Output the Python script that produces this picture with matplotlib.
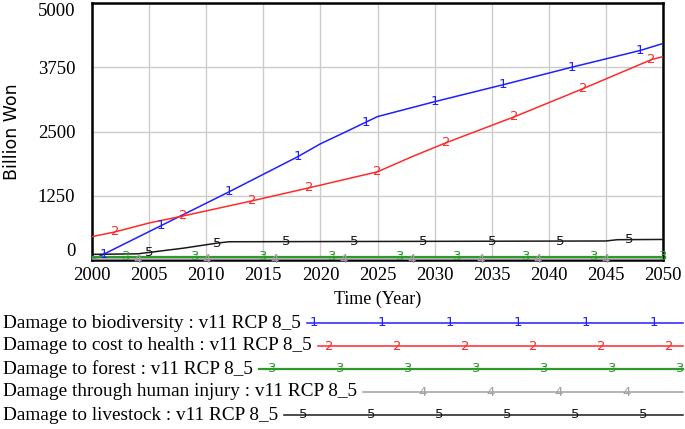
import matplotlib
matplotlib.use("Agg")
import matplotlib.pyplot as plt
import numpy as np

# values (Billion Won)
bio_years = [2000, 2006, 2012, 2018, 2020, 2022, 2025, 2030, 2036, 2042, 2048, 2050]
bio_vals = [0, 663, 1326, 2008, 2260, 2470, 2790, 3080, 3410, 3750, 4076, 4212]

health_years = [2000, 2002, 2005, 2008, 2014, 2019, 2025, 2028, 2031, 2037, 2043, 2049, 2050]
health_vals = [454, 546, 720, 858, 1150, 1404, 1716, 2008, 2281, 2788, 3334, 3900, 3958]

forest_years = [2000, 2050]
forest_vals = [65, 65]

injury_years = [2000, 2050]
injury_vals = [15, 15]

livestock_years = [2000, 2004, 2008, 2011, 2012, 2045, 2046, 2050]
livestock_vals = [110, 120, 230, 330, 355, 370, 395, 400]

# where the series number is written along each line
bio_marks = [2001, 2006, 2012, 2018, 2024, 2030, 2036, 2042, 2048]
health_marks = [2002, 2008, 2014, 2019, 2025, 2031, 2037, 2043, 2049]
forest_marks = [2003, 2009, 2015, 2021, 2027, 2032, 2038, 2044, 2050]
injury_marks = [2004, 2010, 2016, 2022, 2028, 2034, 2039, 2045]
livestock_marks = [2005, 2011, 2017, 2023, 2029, 2035, 2041, 2047]

labels = ["Damage to biodiversity : v11 RCP 8_5",
          "Damage to cost to health : v11 RCP 8_5",
          "Damage to forest : v11 RCP 8_5",
          "Damage through human injury : v11 RCP 8_5",
          "Damage to livestock : v11 RCP 8_5"]
colors = ["#1f1fff", "#ff2a2a", "#2e9a2e", "#a0a0a0", "#1a1a1a"]
widths = [1.1, 1.1, 1.6, 1.1, 1.1]

series = [(bio_years, bio_vals, bio_marks),
          (health_years, health_vals, health_marks),
          (forest_years, forest_vals, forest_marks),
          (injury_years, injury_vals, injury_marks),
          (livestock_years, livestock_vals, livestock_marks)]

W, H = 685, 429
fig = plt.figure(figsize=(W / 100, H / 100), dpi=100)
ax = fig.add_axes([92 / W, (H - 260) / H, 571 / W, 257 / H])

# draw injury first so forest sits over it
order = [3, 2, 4, 1, 0]
for i in order:
    xs, ys, marks = series[i]
    ax.plot(xs, ys, color=colors[i], lw=widths[i], zorder=3 + i * 0.1)
    for m in marks:
        ax.text(m, np.interp(m, xs, ys), str(i + 1), color=colors[i],
                fontsize=9.5, ha="center", va="center", zorder=4, clip_on=False)

ax.set_xlim(2000, 2050)
ax.set_ylim(0, 5000)
ax.set_xticks(np.arange(2000, 2051, 5))
ax.set_yticks([0, 1250, 2500, 3750, 5000])
ax.grid(True, color="#cccccc", lw=1)
ax.set_axisbelow(True)
ax.tick_params(length=0, labelsize=13.5, pad=5)
ax.tick_params(axis="y", pad=12)
for lab in ax.get_xticklabels() + ax.get_yticklabels():
    lab.set_family("Liberation Serif")
ylabs = ax.get_yticklabels()
ylabs[0].set_va("bottom")
ylabs[-1].set_va("top")
for sp in ax.spines.values():
    sp.set_linewidth(1.8)
    sp.set_color("black")
ax.set_xlabel("Time (Year)", family="Liberation Serif", fontsize=13, labelpad=5)
ax.set_ylabel("Billion Won", family="DejaVu Sans", fontsize=12.5, labelpad=12)

# legend block under the plot, laid out in pixel units
leg = fig.add_axes([0, 0, 1, 1])
leg.set_xlim(0, W)
leg.set_ylim(H, 0)
leg.axis("off")
row_y = [323, 346, 369, 392, 415]
phases = [42, 57, 0, 15, 31]
texts = []
for i, lab in enumerate(labels):
    t = leg.text(3, row_y[i], lab, family="Liberation Serif", fontsize=13.9,
                 ha="left", va="center")
    texts.append(t)
fig.canvas.draw()
renderer = fig.canvas.get_renderer()
for i, t in enumerate(texts):
    x_end = t.get_window_extent(renderer).x1 + 6
    leg.plot([x_end, W - 2], [row_y[i], row_y[i]], color=colors[i], lw=widths[i])
    p = phases[i]
    while p < x_end + 5:
        p += 68
    while p <= W - 2:
        leg.text(p, row_y[i], str(i + 1), color=colors[i], fontsize=9.5,
                 ha="center", va="center")
        p += 68

fig.savefig("out.png", dpi=100)
